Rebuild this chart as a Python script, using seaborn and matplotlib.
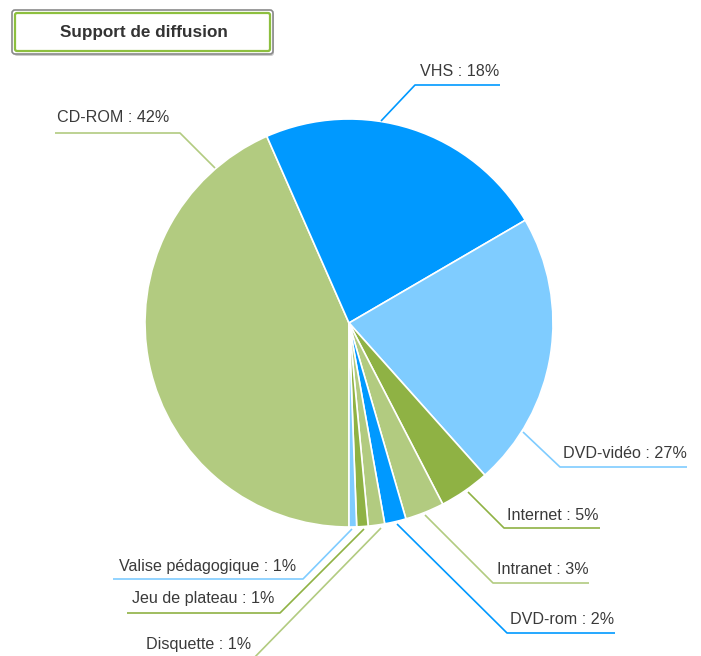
import matplotlib
matplotlib.use("Agg")
import matplotlib.pyplot as plt
from matplotlib.patches import FancyBboxPatch
import seaborn as sns

categories = ["CD-ROM", "VHS", "DVD-vidéo", "Internet", "Intranet",
              "DVD-rom", "Disquette", "Jeu de plateau", "Valise pédagogique"]
values = [43.4, 23.2, 21.8, 4.0, 3.1, 1.7, 1.3, 0.9, 0.6]
label_texts = ["CD-ROM : 42%", "VHS : 18%", "DVD-vidéo : 27%", "Internet : 5%",
               "Intranet : 3%", "DVD-rom : 2%", "Disquette : 1%",
               "Jeu de plateau : 1%", "Valise pédagogique : 1%"]
colors = ["#B2CB80", "#0099FF", "#7FCCFF", "#8FB244", "#B2CB80",
          "#0099FF", "#B2CB80", "#8FB244", "#7FCCFF"]
title = "Support de diffusion"

sns.set_theme(style="white")
plt.rcParams["font.family"] = ["Liberation Sans", "DejaVu Sans"]

W, H = 701, 656
fig = plt.figure(figsize=(W / 100, H / 100), dpi=100)
ax = fig.add_axes([0, 0, 1, 1])


def P(x, y):
    return (x, H - y)


ax.pie(values, colors=colors, startangle=270, counterclock=False,
       center=P(349, 323), radius=204,
       wedgeprops=dict(edgecolor="white", linewidth=1.2))
ax.set_xlim(0, W)
ax.set_ylim(0, H)
ax.set_aspect("equal")
ax.axis("off")

# leader lines: (start, elbow, end of horizontal), text anchor, alignment
layout = {
    "CD-ROM": ((215, 168), (180, 133), (55, 133), (57, 118), "left"),
    "VHS": ((381, 121), (415, 85), (500, 85), (420, 71), "left"),
    "DVD-vidéo": ((523, 432), (560, 467), (687, 467), (563, 453), "left"),
    "Internet": ((468, 492), (504, 528), (600, 528), (507, 515), "left"),
    "Intranet": ((425, 515), (493, 583), (589, 583), (497, 569), "left"),
    "DVD-rom": ((397, 524), (507, 633), (615, 633), (510, 620), "left"),
    "Valise pédagogique": ((352, 529), (303, 579), (113, 579), (296, 566), "right"),
    "Jeu de plateau": ((364, 529), (280, 613), (127, 613), (274, 599), "right"),
    "Disquette": ((381, 528), (250, 662), (140, 662), (251, 644), "right"),
}

for cat, txt, col in zip(categories, label_texts, colors):
    s, e, h, t, ha = layout[cat]
    xs = [P(*s)[0], P(*e)[0], P(*h)[0]]
    ys = [P(*s)[1], P(*e)[1], P(*h)[1]]
    ax.plot(xs, ys, color=col, lw=1.2, solid_capstyle="butt", clip_on=False)
    ax.text(*P(*t), txt, ha=ha, va="center", fontsize=11.6, color="#3a3a3a")

# title box
shadow = FancyBboxPatch(P(14, 56), 260, 44, boxstyle="round,pad=0,rounding_size=3",
                        facecolor="#cccccc", edgecolor="none", zorder=3)
outer = FancyBboxPatch(P(12, 54), 261, 44, boxstyle="round,pad=0,rounding_size=3",
                       facecolor="white", edgecolor="#8a8a8a", lw=1.2, zorder=4)
inner = FancyBboxPatch(P(15, 51), 255, 38, boxstyle="round,pad=0,rounding_size=2",
                       facecolor="white", edgecolor="#8DBF3F", lw=1.6, zorder=5)
for p in (shadow, outer, inner):
    ax.add_patch(p)
ax.text(*P(144, 32), title, ha="center", va="center", fontsize=12.3,
        fontweight="bold", color="#333333", zorder=6)

fig.savefig("out.png", dpi=100)
